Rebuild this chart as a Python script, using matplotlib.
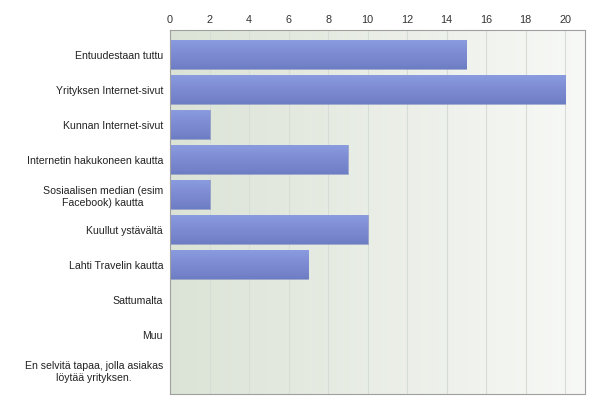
import matplotlib
matplotlib.use("Agg")
import matplotlib.pyplot as plt
import numpy as np

categories = [
    "Entuudestaan tuttu",
    "Yrityksen Internet-sivut",
    "Kunnan Internet-sivut",
    "Internetin hakukoneen kautta",
    "Sosiaalisen median (esim\nFacebook) kautta",
    "Kuullut ystävältä",
    "Lahti Travelin kautta",
    "Sattumalta",
    "Muu",
    "En selvitä tapaa, jolla asiakas\nlöytää yrityksen.",
]
counts = [15, 20, 2, 9, 2, 10, 7, 0, 0, 0]
x_ticks = [0, 2, 4, 6, 8, 10, 12, 14, 16, 18, 20]

plt.rcParams["font.family"] = ["Liberation Sans", "DejaVu Sans"]

fig = plt.figure(figsize=(6, 4.1), dpi=100)
ax = fig.add_axes([170 / 600, 1 - 395 / 410, 415 / 600, 364 / 410])

xmax = 21.0
ymin, ymax = -0.7, len(categories) - 0.3
ax.set_xlim(0, xmax)
ax.set_ylim(ymax, ymin)

# background: greenish on the left fading to near white on the right
bg = np.linspace(0, 1, 256).reshape(1, -1)
c0 = np.array([0.86, 0.89, 0.84])
c1 = np.array([0.97, 0.975, 0.965])
bg_rgb = c0 + (c1 - c0) * bg[..., None]
ax.imshow(bg_rgb, extent=[0, xmax, ymax, ymin], aspect="auto", zorder=0)

for t in x_ticks[1:]:
    ax.axvline(t, color="#d8dcd6", lw=0.8, zorder=1)

# bars with a vertical gradient
top = np.array([0.55, 0.61, 0.88])
bot = np.array([0.43, 0.49, 0.77])
grad = np.linspace(0, 1, 64).reshape(-1, 1)
bar_rgb = top + (bot - top) * grad[..., None]
h = 0.83
y_pos = np.arange(len(categories))
bars = ax.barh(y_pos, counts, height=h, color="none", edgecolor="none", zorder=2)
for b, y, v in zip(bars, y_pos, counts):
    if v <= 0:
        continue
    im = ax.imshow(np.repeat(bar_rgb, 2, axis=1), extent=[0, v, y + h / 2, y - h / 2],
                   aspect="auto", zorder=2)
    im.set_clip_path(b)
    b.set_edgecolor("#6a78bd")
    b.set_linewidth(0.4)
    b.set_facecolor("none")

ax.set_xlim(0, xmax)
ax.set_ylim(ymax, ymin)

ax.xaxis.tick_top()
ax.set_xticks(x_ticks)
ax.set_xticklabels([str(t) for t in x_ticks])
ax.set_yticks(y_pos)
ax.set_yticklabels(categories, multialignment="center")
ax.tick_params(axis="x", length=0, pad=4, labelsize=7.8, colors="#333333")
ax.tick_params(axis="y", length=0, pad=5, labelsize=7.6, colors="#222222")

for s in ax.spines.values():
    s.set_color("#a0a0a0")
    s.set_linewidth(0.8)

fig.savefig("out.png", dpi=100)
